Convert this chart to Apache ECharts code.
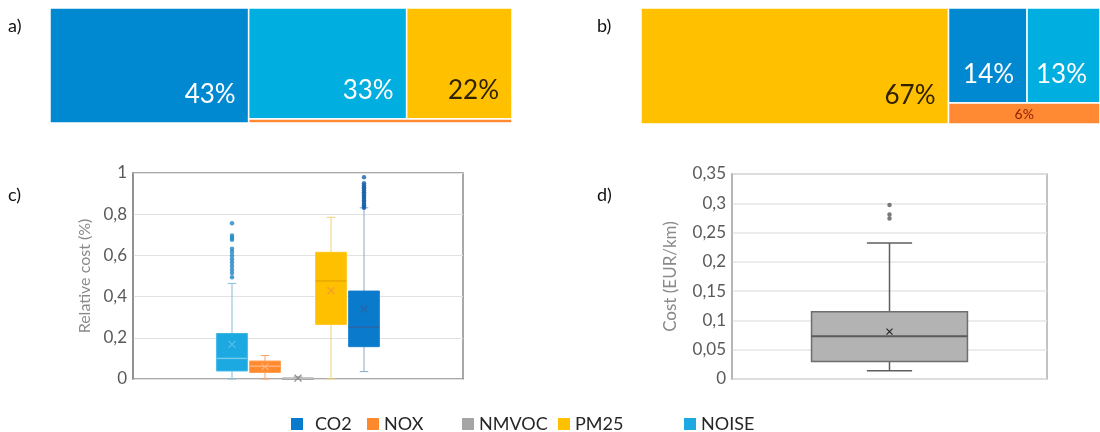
<!DOCTYPE html>
<html>
<head>
<meta charset="utf-8">
<script src="https://cdn.jsdelivr.net/npm/echarts@6/dist/echarts.min.js"></script>
<style>
  html, body { margin: 0; padding: 0; background: #ffffff; }
  #chart { width: 1100px; height: 432px; }
</style>
</head>
<body>
<div id="chart"></div>
<script>
// Pollutant shares of the external cost (treemaps a and b)
const pollutants = ['CO2', 'NOX', 'NMVOC', 'PM25', 'NOISE'];
const shareA = [43, 2, 0, 22, 33];
const shareB = [14, 6, 0, 67, 13];

// Relative cost distribution per pollutant (box plot c)
const boxNames = ['NOISE', 'NOX', 'NMVOC', 'PM25', 'CO2'];
const boxMin = [0, 0, 0, 0, 0.036];
const boxQ1 = [0.039, 0.032, 0, 0.265, 0.157];
const boxMedian = [0.100, 0.062, 0.002, 0.476, 0.251];
const boxQ3 = [0.221, 0.087, 0.005, 0.615, 0.427];
const boxMax = [0.464, 0.114, 0.010, 0.785, 0.831];
const boxMean = [0.168, 0.060, 0.004, 0.429, 0.340];
const noiseOutliers = [0.756, 0.696, 0.686, 0.676, 0.632, 0.616, 0.598, 0.581, 0.565, 0.548, 0.532, 0.515, 0.494];
const co2Outliers = [0.979, 0.950, 0.940, 0.931, 0.923, 0.915, 0.907, 0.899, 0.891, 0.883, 0.875, 0.867, 0.859, 0.851, 0.843, 0.835, 0.831];

// Total cost per km (box plot d)
const costStats = [0.014, 0.030, 0.073, 0.115, 0.232]; // min, Q1, median, Q3, max
const costMean = 0.081;
const costOutliers = [0.297, 0.281, 0.274];

// Tick settings
const relTicks = { min: 0, max: 1, interval: 0.2 };
const costTicks = { min: 0, max: 0.35, interval: 0.05 };

const FONT = 'Lato, "Open Sans", sans-serif';

// ---- colours ----
const cellColors = { CO2: '#0088d1', NOX: '#ff8a33', NMVOC: '#a5a5a5', PM25: '#ffc000', NOISE: '#00aee0' };
const cellText = { CO2: '#ffffff', NOX: '#8a1f00', NMVOC: '#333333', PM25: '#2e2200', NOISE: '#ffffff' };
const boxStyle = {
  NOISE: { fill: '#1ca9e1', border: '#3db6e6', median: '#73c9ee', whisker: '#86bbd8', mean: '#5bbde9', dot: '#1f84c4' },
  NOX:   { fill: '#ff8a2e', border: '#ff9a4a', median: '#ffb27a', whisker: '#f7a06a', mean: '#ffb07a', dot: '#e8731f' },
  NMVOC: { fill: '#a5a5a5', border: '#9a9a9a', median: '#c2c2c2', whisker: '#9a9a9a', mean: '#8a8a8a', dot: '#8a8a8a' },
  PM25:  { fill: '#ffc000', border: '#ffc61a', median: '#e9a900', whisker: '#ecd27a', mean: '#f29b2c', dot: '#e0a800' },
  CO2:   { fill: '#0a7bcc', border: '#1a82cf', median: '#2b66a6', whisker: '#89a9c8', mean: '#2a64a8', dot: '#1862aa' }
};
const costStyle = { fill: '#b3b3b3', border: '#6e6e6e', median: '#5a5a5a', whisker: '#5e5e5e', mean: '#262626', dot: '#595959' };

// ---- treemap layout: largest share as a full-height column, next two side by side on top, the rest in a bottom strip ----
function treeRects(values) {
  const order = values.map((v, i) => i).filter(i => values[i] > 0).sort((a, b) => values[b] - values[a]);
  const sum = list => list.reduce((s, i) => s + values[i], 0);
  const total = sum(order);
  const first = order[0];
  const w0 = values[first] / total * 100;
  const rects = [[0, 0, w0, 100, first, values[first]]];
  const rest = order.slice(1);
  const top = rest.slice(0, 2), bottom = rest.slice(2);
  const topSum = sum(top), bottomSum = sum(bottom);
  const hTop = topSum / sum(rest) * 100;
  let x = w0;
  top.forEach(i => {
    const w = values[i] / topSum * (100 - w0);
    rects.push([x, 100 - hTop, x + w, 100, i, values[i]]);
    x += w;
  });
  x = w0;
  bottom.forEach(i => {
    const w = values[i] / bottomSum * (100 - w0);
    rects.push([x, 0, x + w, 100 - hTop, i, values[i]]);
    x += w;
  });
  return rects;
}

function renderCell(params, api) {
  const x0 = api.value(0), y0 = api.value(1), x1 = api.value(2), y1 = api.value(3);
  const name = pollutants[api.value(4)];
  const val = api.value(5);
  const tl = api.coord([x0, y1]);
  const br = api.coord([x1, y0]);
  const w = br[0] - tl[0], h = br[1] - tl[1];
  const children = [{
    type: 'rect',
    shape: { x: tl[0], y: tl[1], width: w, height: h },
    style: { fill: cellColors[name], stroke: '#ffffff', lineWidth: 1.5 }
  }];
  if (h >= 40) {
    children.push({
      type: 'text', x: br[0] - 13, y: br[1] - 15,
      style: { text: val + '%', fill: cellText[name], font: '26px ' + FONT, align: 'right', verticalAlign: 'bottom' }
    });
  } else if (h >= 12) {
    children.push({
      type: 'text', x: (tl[0] + br[0]) / 2, y: (tl[1] + br[1]) / 2 + 1,
      style: { text: val + '%', fill: cellText[name], font: '14px ' + FONT, align: 'center', verticalAlign: 'middle' }
    });
  }
  return { type: 'group', children };
}

// ---- box-and-whisker drawing ----
function makeBoxRenderer(st, widthRatio, capRatio, meanHalf, lineW) {
  return function (params, api) {
    const pos = api.value(0);
    const vMin = api.value(1), q1 = api.value(2), med = api.value(3), q3 = api.value(4), vMax = api.value(5), mean = api.value(6);
    const cx = api.coord([pos, 0])[0];
    const y = v => api.coord([pos, v])[1];
    const bw = api.size([1, 0])[0] * widthRatio;
    const cw = bw * capRatio;
    const ln = (x1, y1, x2, y2, color, width) => ({
      type: 'line', shape: { x1, y1, x2, y2 }, style: { stroke: color, lineWidth: width }
    });
    const children = [
      ln(cx, y(q3), cx, y(vMax), st.whisker, lineW),
      ln(cx - cw / 2, y(vMax), cx + cw / 2, y(vMax), st.whisker, lineW),
      ln(cx, y(q1), cx, y(vMin), st.whisker, lineW),
      ln(cx - cw / 2, y(vMin), cx + cw / 2, y(vMin), st.whisker, lineW),
      {
        type: 'rect',
        shape: { x: cx - bw / 2, y: y(q3), width: bw, height: Math.max(y(q1) - y(q3), 1.5) },
        style: { fill: st.fill, stroke: st.border, lineWidth: lineW }
      },
      ln(cx - bw / 2, y(med), cx + bw / 2, y(med), st.median, lineW + 0.5),
      ln(cx - meanHalf, y(mean) - meanHalf, cx + meanHalf, y(mean) + meanHalf, st.mean, 1.2),
      ln(cx - meanHalf, y(mean) + meanHalf, cx + meanHalf, y(mean) - meanHalf, st.mean, 1.2)
    ];
    return { type: 'group', children };
  };
}

const decimalComma = v => String(+v.toFixed(2)).replace('.', ',');

const series = [];

// Treemaps
series.push({
  type: 'custom', name: 'share-a', xAxisIndex: 0, yAxisIndex: 0,
  renderItem: renderCell, data: treeRects(shareA), silent: true
});
series.push({
  type: 'custom', name: 'share-b', xAxisIndex: 1, yAxisIndex: 1,
  renderItem: renderCell, data: treeRects(shareB), silent: true
});

// Box plot c: one series per pollutant, centred in the plot
const firstSlot = 5 - (boxNames.length - 1) / 2;
boxNames.forEach((name, i) => {
  const st = boxStyle[name];
  series.push({
    type: 'custom', name, xAxisIndex: 2, yAxisIndex: 2,
    itemStyle: { color: st.fill },
    renderItem: makeBoxRenderer(st, 0.93, 0.28, 3.5, 1),
    data: [[firstSlot + i, boxMin[i], boxQ1[i], boxMedian[i], boxQ3[i], boxMax[i], boxMean[i]]]
  });
});
series.push({
  type: 'scatter', name: 'NOISE', xAxisIndex: 2, yAxisIndex: 2,
  symbol: 'circle', symbolSize: 4.5, itemStyle: { color: boxStyle.NOISE.dot },
  data: noiseOutliers.map(v => [firstSlot + boxNames.indexOf('NOISE'), v])
});
series.push({
  type: 'scatter', name: 'CO2', xAxisIndex: 2, yAxisIndex: 2,
  symbol: 'circle', symbolSize: 4.5, itemStyle: { color: boxStyle.CO2.dot },
  data: co2Outliers.map(v => [firstSlot + boxNames.indexOf('CO2'), v])
});

// Box plot d
series.push({
  type: 'custom', name: 'cost', xAxisIndex: 3, yAxisIndex: 3,
  renderItem: makeBoxRenderer(costStyle, 0.99, 0.29, 3, 1.5),
  data: [[1, costStats[0], costStats[1], costStats[2], costStats[3], costStats[4], costMean]]
});
series.push({
  type: 'scatter', name: 'cost-outliers', xAxisIndex: 3, yAxisIndex: 3,
  symbol: 'circle', symbolSize: 4.5, itemStyle: { color: costStyle.dot },
  data: costOutliers.map(v => [1, v])
});

// Legend: one component per entry so each sits at its own place in the row
const legendSpots = [
  { name: 'CO2', left: 286, pad: 7 },
  { name: 'NOX', left: 362, pad: 0 },
  { name: 'NMVOC', left: 457, pad: 0 },
  { name: 'PM25', left: 553, pad: 0 },
  { name: 'NOISE', left: 679, pad: 0 }
];
const legends = legendSpots.map(s => ({
  data: [s.name], left: s.left, top: 410, padding: 5, icon: 'rect',
  itemWidth: 12, itemHeight: 12, itemGap: 0, selectedMode: false,
  textStyle: { fontFamily: FONT, fontSize: 18, color: '#262626', padding: [0, 0, 0, s.pad] }
}));

const hiddenValueAxis = (gridIndex, min, max) => ({
  type: 'value', gridIndex, min, max, show: false, splitLine: { show: false }
});

const option = {
  animation: false,
  backgroundColor: '#ffffff',
  textStyle: { fontFamily: FONT },
  legend: legends,
  grid: [
    { left: 50, top: 8, width: 462, height: 115 },
    { left: 641, top: 8, width: 467, height: 116 },
    { left: 133, top: 173, width: 330, height: 206, show: true, borderColor: '#8c8c8c', borderWidth: 1.5 },
    { left: 732, top: 174, width: 315, height: 205, show: true, borderColor: '#b0b0b0', borderWidth: 1.5 }
  ],
  xAxis: [
    hiddenValueAxis(0, 0, 100),
    hiddenValueAxis(1, 0, 100),
    hiddenValueAxis(2, 0, 10),
    hiddenValueAxis(3, 0, 2)
  ],
  yAxis: [
    hiddenValueAxis(0, 0, 100),
    hiddenValueAxis(1, 0, 100),
    {
      type: 'value', gridIndex: 2, min: relTicks.min, max: relTicks.max, interval: relTicks.interval,
      name: 'Relative cost (%)', nameLocation: 'middle', nameGap: 40, nameRotate: 90,
      nameTextStyle: { fontFamily: FONT, fontSize: 16, color: '#8a8a8a' },
      axisLine: { show: true, lineStyle: { color: '#8c8c8c', width: 1.5 } },
      axisTick: { show: false },
      axisLabel: { margin: 6, fontFamily: FONT, fontSize: 17, color: '#595959', formatter: decimalComma },
      splitLine: { show: true, lineStyle: { color: '#e2e2e2', width: 1 } }
    },
    {
      type: 'value', gridIndex: 3, min: costTicks.min, max: costTicks.max, interval: costTicks.interval,
      name: 'Cost (EUR/km)', nameLocation: 'middle', nameGap: 53, nameRotate: 90,
      nameTextStyle: { fontFamily: FONT, fontSize: 17, color: '#8a8a8a' },
      axisLine: { show: true, lineStyle: { color: '#b0b0b0', width: 1.5 } },
      axisTick: { show: false },
      axisLabel: { margin: 6, fontFamily: FONT, fontSize: 17, color: '#595959', formatter: decimalComma },
      splitLine: { show: true, lineStyle: { color: '#e6e6e6', width: 1.5 } }
    }
  ],
  graphic: [
    { type: 'text', left: 8, top: 17, style: { text: 'a)', font: '18px ' + FONT, fill: '#111111' } },
    { type: 'text', left: 597, top: 17, style: { text: 'b)', font: '18px ' + FONT, fill: '#111111' } },
    { type: 'text', left: 8, top: 186, style: { text: 'c)', font: '18px ' + FONT, fill: '#111111' } },
    { type: 'text', left: 597, top: 186, style: { text: 'd)', font: '18px ' + FONT, fill: '#111111' } }
  ],
  series
};

const chart = echarts.init(document.getElementById('chart'), null, { renderer: 'canvas' });
chart.setOption(option);
</script>
</body>
</html>
